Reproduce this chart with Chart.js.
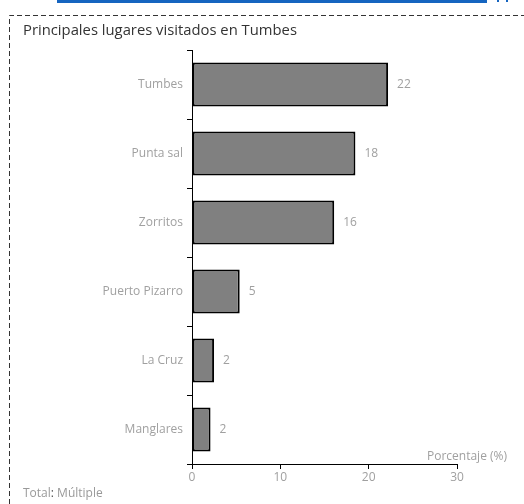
<!DOCTYPE html>
<html>
<head>
<meta charset="utf-8">
<script src="https://cdn.jsdelivr.net/npm/chart.js@4.4.1/dist/chart.umd.min.js"></script>
<style>
  html, body { margin: 0; padding: 0; background: #fff; }
  body { width: 524px; height: 504px; position: relative; overflow: hidden; font-family: "Open Sans", sans-serif; }
  #wrap { position: absolute; left: 0; top: 0; width: 524px; height: 504px; }
  #blue { position: absolute; left: 57px; top: 0; width: 430px; height: 3px; background: #1565c0; }
  .dot { position: absolute; top: 0; width: 2px; height: 2px; background: #1565c0; }
  #border { position: absolute; left: 0; top: 0; }
  #title { position: absolute; left: 23px; top: 19px; font-size: 14.8px; color: #333; white-space: nowrap; }
  #foot { position: absolute; left: 23px; top: 484px; font-size: 12px; color: #999; white-space: nowrap; }
  #foot b { font-weight: normal; color: #555; }
</style>
</head>
<body>
<div id="blue"></div>
<div class="dot" style="left:497px"></div>
<div class="dot" style="left:506px"></div>
<svg id="border" width="524" height="504">
  <path d="M9.5 504 L9.5 15.5 L524 15.5" fill="none" stroke="#333" stroke-width="1" stroke-dasharray="5,3"/>
</svg>
<div id="wrap"><canvas id="c" width="524" height="504"></canvas></div>
<div id="title">Principales lugares visitados en Tumbes</div>
<div id="foot">Total<b>:</b> Múltiple</div>
<script>
const categories = ["Tumbes", "Punta sal", "Zorritos", "Puerto Pizarro", "La Cruz", "Manglares"];
const values = [22.2, 18.5, 16.1, 5.4, 2.5, 2.1];
const valueLabels = ["22", "18", "16", "5", "2", "2"];
const xTicks = [0, 10, 20, 30];
const axisTitle = "Porcentaje (%)";

const labelFont = { family: "'Open Sans', sans-serif", size: 12 };
const gray = "#a0a0a0";

const valuePlugin = {
  id: "valueLabels",
  afterDatasetsDraw(chart) {
    const ctx = chart.ctx;
    const meta = chart.getDatasetMeta(0);
    ctx.save();
    ctx.font = "12px 'Open Sans', sans-serif";
    ctx.fillStyle = gray;
    ctx.textAlign = "left";
    ctx.textBaseline = "middle";
    meta.data.forEach((bar, i) => {
      ctx.fillText(valueLabels[i], bar.x + 9, bar.y);
    });
    const xs = chart.scales.x;
    ctx.textAlign = "right";
    ctx.textBaseline = "bottom";
    ctx.fillText(axisTitle, xs.right + 50, xs.top - 1);
    ctx.restore();
  }
};

new Chart(document.getElementById("c"), {
  type: "bar",
  data: {
    labels: categories,
    datasets: [{
      data: values,
      backgroundColor: "#808080",
      borderColor: "#000",
      borderWidth: 2,
      borderSkipped: false,
      categoryPercentage: 1,
      barPercentage: 0.64
    }]
  },
  options: {
    indexAxis: "y",
    responsive: false,
    animation: false,
    devicePixelRatio: 1,
    layout: { padding: { left: 0, right: 67, top: 50, bottom: 0 } },
    plugins: { legend: { display: false }, tooltip: { enabled: false }, title: { display: false } },
    scales: {
      x: {
        min: 0, max: 30,
        afterBuildTicks(scale) { scale.ticks = xTicks.map(v => ({ value: v })); },
        afterFit(scale) { scale.height = 40; },
        grid: { display: true, drawOnChartArea: false, drawTicks: true, tickLength: 5, color: "#000", lineWidth: 1 },
        border: { display: true, color: "#000", width: 1 },
        ticks: { color: gray, font: labelFont, padding: 1 }
      },
      y: {
        afterFit(scale) { scale.width = 192; },
        grid: { display: true, drawOnChartArea: false, drawTicks: true, tickLength: 5, color: "#000", lineWidth: 1, offset: true },
        border: { display: true, color: "#000", width: 1 },
        ticks: { color: gray, font: labelFont, padding: 4 }
      }
    }
  },
  plugins: [valuePlugin]
});
</script>
</body>
</html>
